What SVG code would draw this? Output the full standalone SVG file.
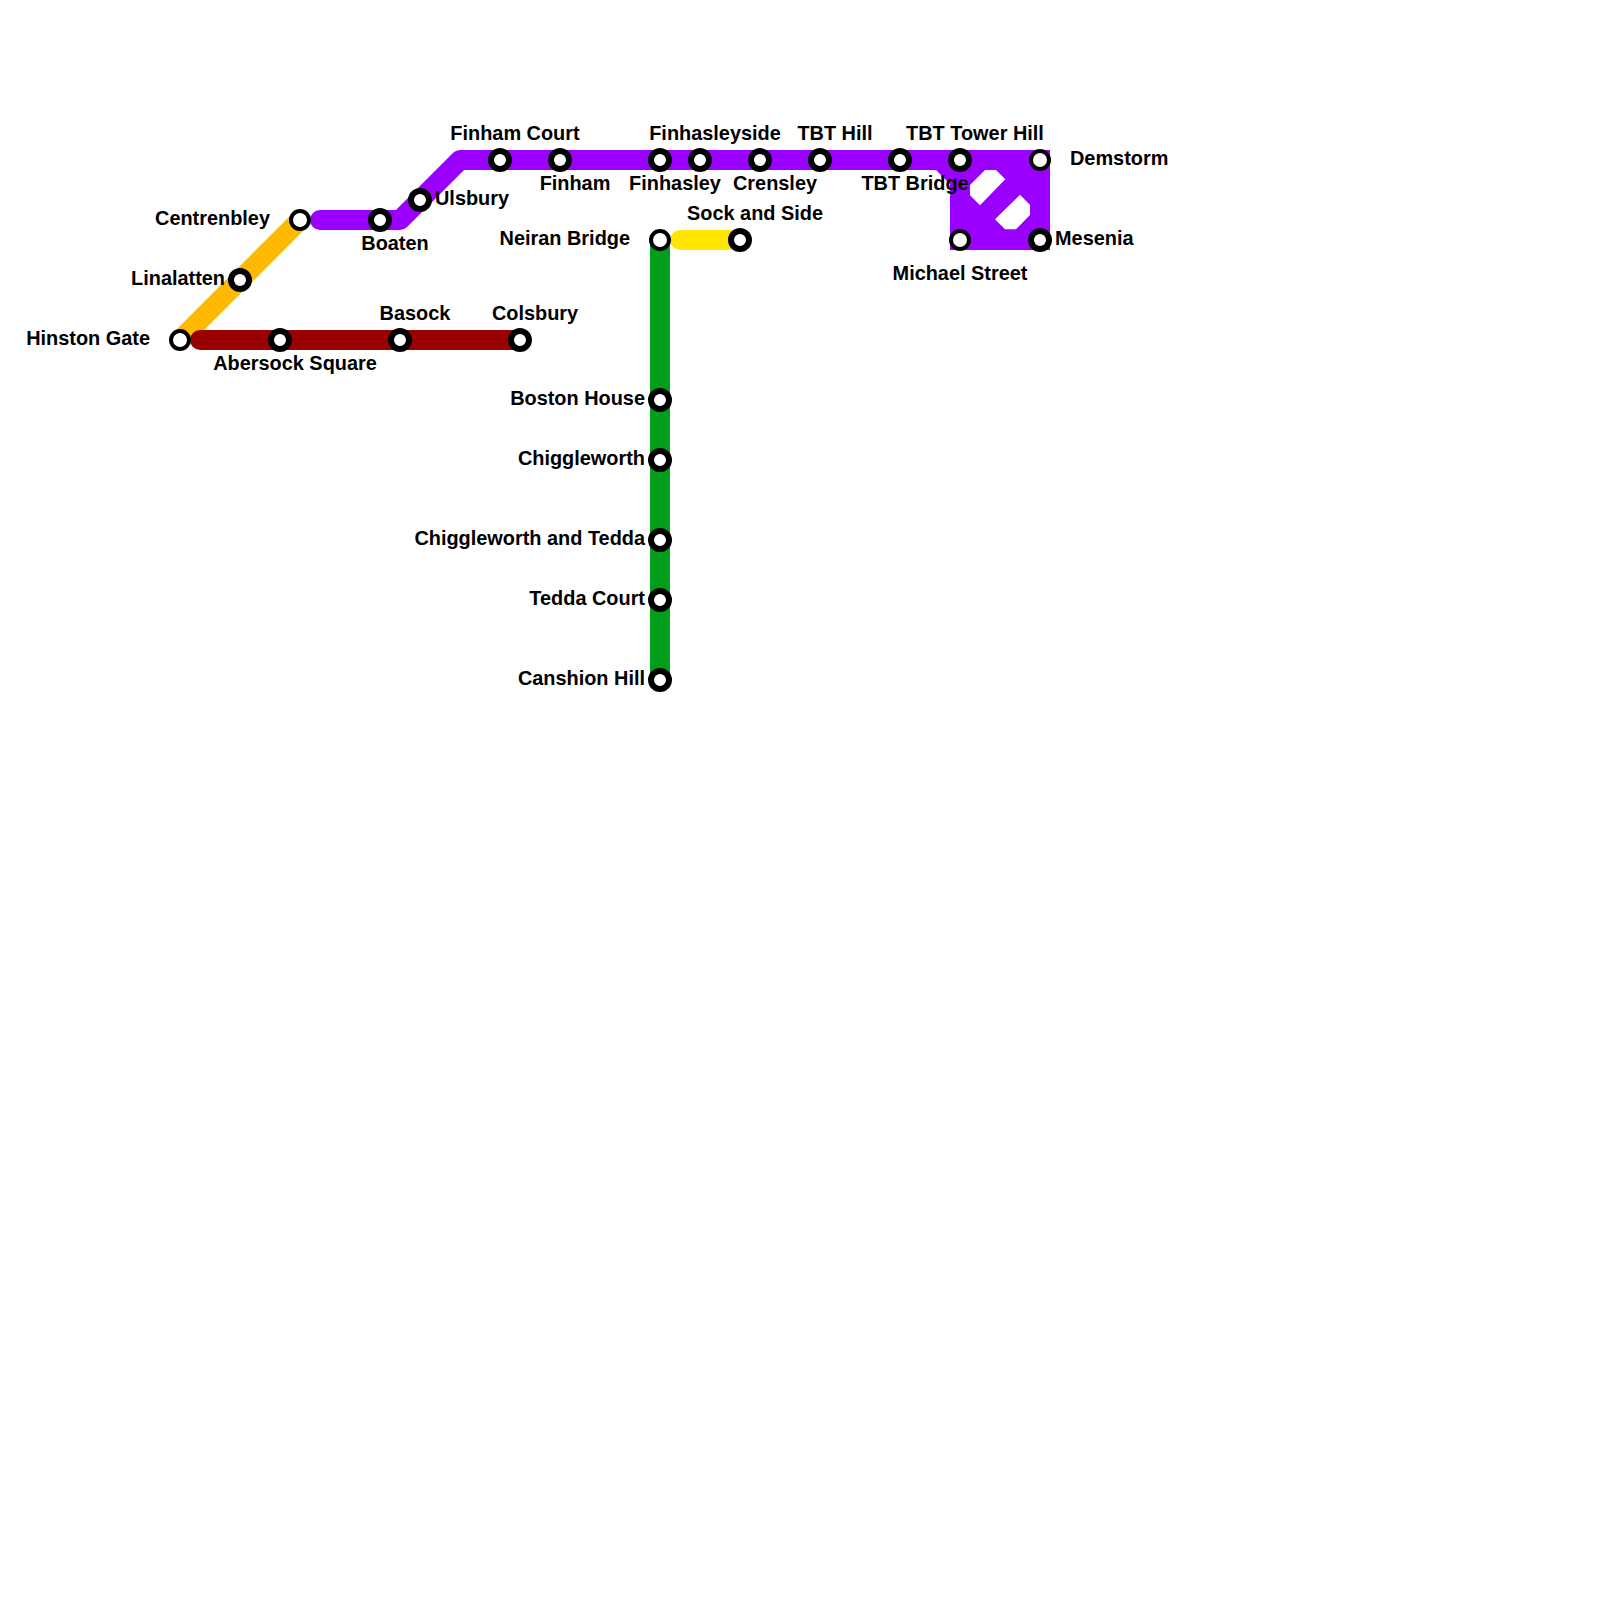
<svg xmlns="http://www.w3.org/2000/svg" width="1600" height="1600" viewBox="0 0 1600 1600">
<style>
.l{fill:none;stroke-width:20;stroke-linejoin:round}
.s circle{fill:#fff;stroke:#000;stroke-width:6}
.t circle{fill:#fff;stroke:#000;stroke-width:4}
text{font-family:"Liberation Sans",Arial,sans-serif;font-size:19.900px;font-weight:bold;fill:#000}
.m{text-anchor:middle}.e{text-anchor:end}
</style>
<rect width="1600" height="1600" fill="#fff"/>
<g id="connectors">
<path class="l" d="M180 340L300 220" stroke="#ffb900"/>
<path class="l" d="M200 340H520" stroke="#990000" stroke-linecap="round"/>
<path class="l" d="M320 220H400L460 160H940" stroke="#9900ff"/>
<path d="M310 220a10 10 0 0 1 10-10v20a10 10 0 0 1-10-10z" fill="#9900ff"/>
<path d="M930 150H1050V250H950V184L936 170H930zM985 170L970 185V195.300L980 205.300L1005.300 179.300L996 170zM1020 194.700L995 219.300L1005 229.300H1016L1030 215V205z" fill="#9900ff" fill-rule="evenodd"/>
<path class="l" d="M660 240V680" stroke="#009e1a"/>
<path class="l" d="M680 240H740" stroke="#ffe600" stroke-linecap="round"/>
</g>
<g id="hinston-gate" class="t"><circle cx="180" cy="340" r="9"/><text class="e" x="150" y="345">Hinston Gate</text></g>
<g id="linalatten" class="s"><circle cx="240" cy="280" r="9"/><text class="e" x="225" y="285">Linalatten</text></g>
<g id="centrenbley" class="t"><circle cx="300" cy="220" r="9"/><text class="e" x="270" y="225">Centrenbley</text></g>
<g id="boaten" class="s"><circle cx="380" cy="220" r="9"/><text class="m" x="395" y="250">Boaten</text></g>
<g id="ulsbury" class="s"><circle cx="420" cy="200" r="9"/><text x="435" y="205">Ulsbury</text></g>
<g id="finham-court" class="s"><circle cx="500" cy="160" r="9"/><text class="m" x="515" y="140">Finham Court</text></g>
<g id="finham" class="s"><circle cx="560" cy="160" r="9"/><text class="m" x="575" y="190">Finham</text></g>
<g id="finhasley" class="s"><circle cx="660" cy="160" r="9"/><text class="m" x="675" y="190">Finhasley</text></g>
<g id="finhasleyside" class="s"><circle cx="700" cy="160" r="9"/><text class="m" x="715" y="140">Finhasleyside</text></g>
<g id="crensley" class="s"><circle cx="760" cy="160" r="9"/><text class="m" x="775" y="190">Crensley</text></g>
<g id="tbt-hill" class="s"><circle cx="820" cy="160" r="9"/><text class="m" x="835" y="140">TBT Hill</text></g>
<g id="tbt-bridge" class="s"><circle cx="900" cy="160" r="9"/><text class="m" x="915" y="190">TBT Bridge</text></g>
<g id="tbt-tower-hill" class="s"><circle cx="960" cy="160" r="9"/><text class="m" x="975" y="140">TBT Tower Hill</text></g>
<g id="demstorm" class="t"><circle cx="1040" cy="160" r="9"/><text x="1070" y="165">Demstorm</text></g>
<g id="michael-street" class="t"><circle cx="960" cy="240" r="9"/><text class="m" x="960" y="280">Michael Street</text></g>
<g id="mesenia" class="s"><circle cx="1040" cy="240" r="9"/><text x="1055" y="245">Mesenia</text></g>
<g id="neiran-bridge" class="t"><circle cx="660" cy="240" r="9"/><text class="e" x="630" y="245">Neiran Bridge</text></g>
<g id="sock-and-side" class="s"><circle cx="740" cy="240" r="9"/><text class="m" x="755" y="220">Sock and Side</text></g>
<g id="abersock-square" class="s"><circle cx="280" cy="340" r="9"/><text class="m" x="295" y="370">Abersock Square</text></g>
<g id="basock" class="s"><circle cx="400" cy="340" r="9"/><text class="m" x="415" y="320">Basock</text></g>
<g id="colsbury" class="s"><circle cx="520" cy="340" r="9"/><text class="m" x="535" y="320">Colsbury</text></g>
<g id="boston-house" class="s"><circle cx="660" cy="400" r="9"/><text class="e" x="645" y="405">Boston House</text></g>
<g id="chiggleworth" class="s"><circle cx="660" cy="460" r="9"/><text class="e" x="645" y="465">Chiggleworth</text></g>
<g id="chiggleworth-and-tedda" class="s"><circle cx="660" cy="540" r="9"/><text class="e" x="645" y="545">Chiggleworth and Tedda</text></g>
<g id="tedda-court" class="s"><circle cx="660" cy="600" r="9"/><text class="e" x="645" y="605">Tedda Court</text></g>
<g id="canshion-hill" class="s"><circle cx="660" cy="680" r="9"/><text class="e" x="645" y="685">Canshion Hill</text></g>
</svg>
